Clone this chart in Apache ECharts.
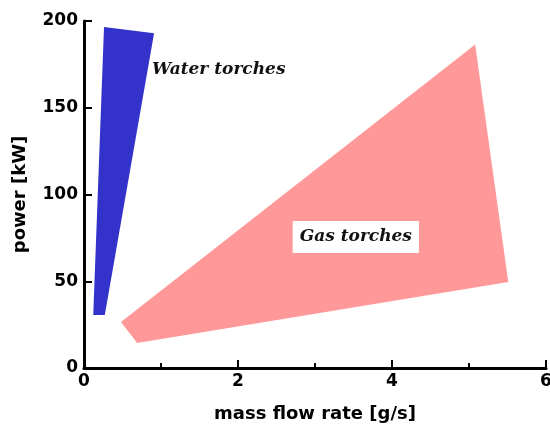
<!DOCTYPE html>
<html>
<head>
<meta charset="utf-8">
<script src="https://cdn.jsdelivr.net/npm/echarts@6/dist/echarts.min.js"></script>
<style>
  html, body { margin: 0; padding: 0; background: #fff; }
  #chart { width: 550px; height: 425px; }
</style>
</head>
<body>
<div id="chart"></div>
<script>
var myChart = echarts.init(document.getElementById('chart'));

// polygon corners
var waterX = [0.26, 0.91, 0.27, 0.12];
var waterY = [196.5, 193, 30.5, 30.5];
var gasX = [0.48, 0.69, 5.51, 5.08];
var gasY = [26.5, 14.4, 49.6, 186.5];

var xTicks = [0, 2, 4, 6];
var yTicks = [0, 50, 100, 150, 200];

var regionNames = ['Water torches', 'Gas torches'];
var regionLabelX = [1.75, 3.53];
var regionLabelY = [171.8, 75.5];

function polygonSeries(xs, ys, color) {
	return {
		type: 'custom',
		silent: true,
		data: [0],
		renderItem: function (params, api) {
			var pts = [];
			for (var i = 0; i < xs.length; i++) {
				pts.push(api.coord([xs[i], ys[i]]));
			}
			return {
				type: 'polygon',
				shape: { points: pts },
				style: { fill: color }
			};
		}
	};
}

var labelSeries = {
	type: 'custom',
	silent: true,
	z: 5,
	data: regionNames.map(function (n, i) { return [regionLabelX[i], regionLabelY[i], n]; }),
	renderItem: function (params, api) {
		var p = api.coord([api.value(0), api.value(1)]);
		var name = regionNames[params.dataIndex];
		return {
			type: 'text',
			x: p[0],
			y: p[1],
			style: {
				text: name,
				fill: '#111',
				font: 'italic bold 17px "DejaVu Serif", serif',
				align: 'center',
				verticalAlign: 'middle',
				backgroundColor: params.dataIndex === 1 ? '#fff' : 'transparent',
				padding: [8, 7, 7, 7]
			}
		};
	}
};

var axisFont = {
	fontFamily: '"DejaVu Sans", Verdana, sans-serif',
	fontWeight: 'bold',
	color: '#000'
};

myChart.setOption({
	animation: false,
	grid: { left: 84, right: 4, top: 21, bottom: 57, outerBoundsMode: 'none' },
	xAxis: {
		type: 'value',
		min: xTicks[0],
		max: xTicks[xTicks.length - 1],
		interval: 2,
		name: 'mass flow rate [g/s]',
		nameLocation: 'middle',
		nameGap: 37,
		nameTextStyle: Object.assign({ fontSize: 18 }, axisFont),
		axisLine: { lineStyle: { color: '#000', width: 3 } },
		axisTick: { inside: true, length: 8, lineStyle: { color: '#000', width: 2 } },
		minorTick: { show: true, splitNumber: 2, length: 5, lineStyle: { color: '#000', width: 2 } },
		axisLabel: Object.assign({ fontSize: 17, margin: 5 }, axisFont),
		splitLine: { show: false }
	},
	yAxis: {
		type: 'value',
		min: yTicks[0],
		max: yTicks[yTicks.length - 1],
		interval: 50,
		name: 'power [kW]',
		nameLocation: 'middle',
		nameGap: 55,
		nameTextStyle: Object.assign({ fontSize: 18 }, axisFont),
		axisLine: { show: true, lineStyle: { color: '#000', width: 3 } },
		axisTick: { show: true, inside: true, length: 8, lineStyle: { color: '#000', width: 2 } },
		axisLabel: Object.assign({ fontSize: 17, margin: 6 }, axisFont),
		splitLine: { show: false }
	},
	series: [
		polygonSeries(waterX, waterY, '#3333cc'),
		polygonSeries(gasX, gasY, '#ff9999'),
		labelSeries
	]
});

window.addEventListener('resize', function(){
	myChart.resize();
});
</script>
</body>
</html>
